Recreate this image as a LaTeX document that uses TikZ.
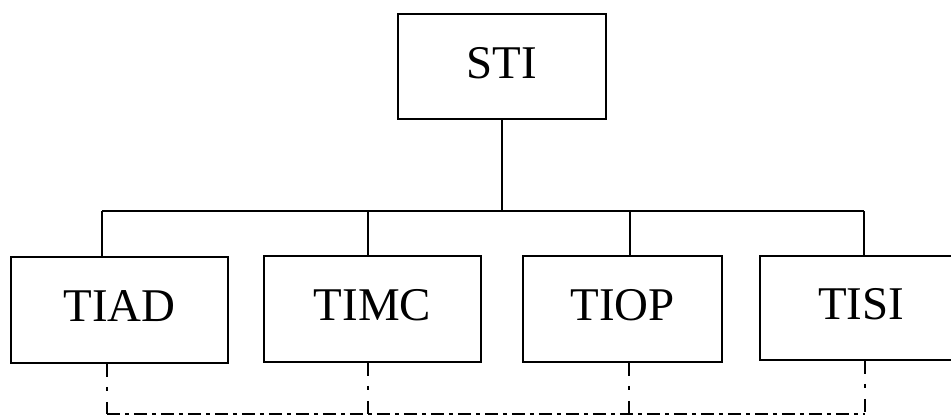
\documentclass[tikz,border=0pt]{standalone}
\usepackage{fontspec}
\setmainfont{Liberation Serif}
\usepackage{tikz}

\tikzset{
  unit/.style={draw,line width=1.1pt,inner sep=0pt,text depth=0.16cm,font=\fontsize{26.7}{32}\selectfont},
  link/.style={line width=1.1pt},
  vdot/.style={line width=1.7pt,dash pattern=on 0.26cm off 0.2cm on 0.08cm off 0.22cm},
  hdot/.style={line width=1.7pt,dash pattern=on 0.26cm off 0.1cm on 0.08cm off 0.1cm}
}

\begin{document}
\begin{tikzpicture}[x=0.02cm,y=-0.02cm]
        \clip (0,0) rectangle (951,416);
        % boxes
        \node[unit,minimum width=4.16cm,minimum height=2.1cm] (sti) at (502,66.5) {STI};
        \node[unit,minimum width=4.34cm,minimum height=2.12cm] (tiad) at (119.5,310) {TIAD};
        \node[unit,minimum width=4.34cm,minimum height=2.12cm] (timc) at (372.5,309) {TIMC};
        \node[unit,minimum width=3.98cm,minimum height=2.12cm] (tiop) at (622.5,309) {TIOP};
        \node[unit,minimum width=4.04cm,minimum height=2.08cm] (tisi) at (861,308) {TISI};
        % tree
        \coordinate (hub) at (502,211);
        \coordinate (b1) at (102,211);
        \coordinate (b2) at (368,211);
        \coordinate (b3) at (630,211);
        \coordinate (b4) at (864,211);
        \draw[link] (sti.south) -- (hub);
        \draw[link] (b1) -- (b4);
        \draw[link] (b1) -- (b1 |- tiad.north);
        \draw[link] (b2) -- (b2 |- timc.north);
        \draw[link] (b3) -- (b3 |- tiop.north);
        \draw[link] (b4) -- (b4 |- tisi.north);
        % dash-dot links underneath
        \coordinate (d1) at (107,414);
        \coordinate (d2) at (368,414);
        \coordinate (d3) at (629,414);
        \coordinate (d4) at (865,414);
        \draw[hdot] (d1) -- (d4);
        \draw[vdot] (d1 |- tiad.south) -- (d1);
        \draw[vdot] (d2 |- timc.south) -- (d2);
        \draw[vdot] (d3 |- tiop.south) -- (d3);
        \draw[vdot] (d4 |- tisi.south) -- (d4);
\end{tikzpicture}
\end{document}
